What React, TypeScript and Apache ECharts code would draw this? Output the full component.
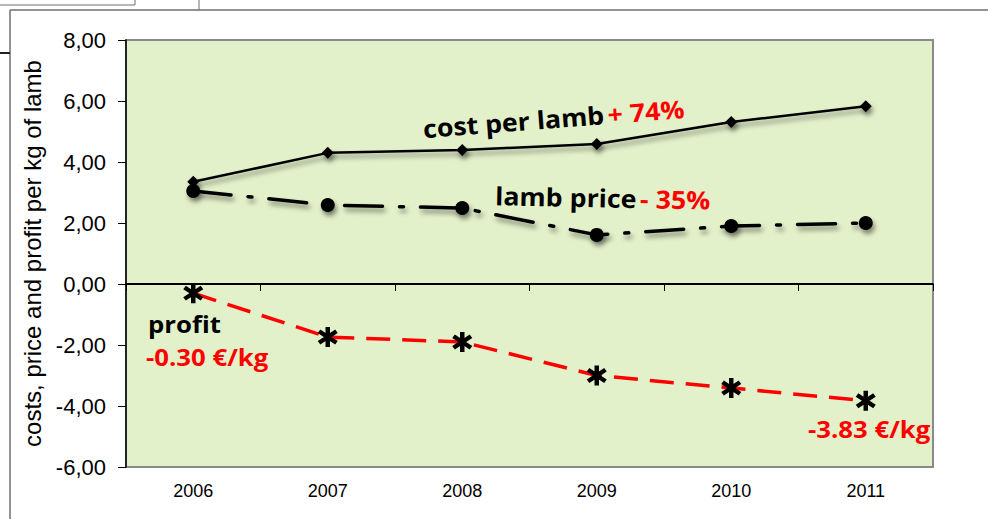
import React, { useEffect, useRef } from "react";
import * as echarts from "echarts";

const years = ["2006", "2007", "2008", "2009", "2010", "2011"];
const costPerLamb = [3.35, 4.3, 4.39, 4.59, 5.31, 5.83];
const lambPrice = [3.05, 2.59, 2.49, 1.61, 1.9, 2.0];
const profit = [-0.3, -1.74, -1.9, -3.0, -3.41, -3.83];
const yMin = -6;
const yMax = 8;
const yStep = 2;

function bar(angleDeg: number, half: number, w: number): string {
  const a = (angleDeg * Math.PI) / 180;
  const dx = Math.sin(a), dy = -Math.cos(a);
  const px = -dy, py = dx;
  const pts = [
    [half * dx + w * px, half * dy + w * py],
    [half * dx - w * px, half * dy - w * py],
    [-half * dx - w * px, -half * dy - w * py],
    [-half * dx + w * px, -half * dy + w * py],
  ];
  return "M" + pts.map((p) => p[0].toFixed(2) + "," + p[1].toFixed(2)).join(" L") + " Z";
}
const asterisk = "path://" + [bar(0, 10, 2.1), bar(55, 10, 2.1), bar(-55, 10, 2.1)].join(" ");

const shadow = {
  shadowColor: "rgba(0,0,0,0.45)",
  shadowBlur: 5,
  shadowOffsetX: 2,
  shadowOffsetY: 4,
};

const labelFont = "Open Sans, Lato, sans-serif";
const axisFont = "Liberation Sans, Arial, sans-serif";
const narrowFont = "Liberation Sans Narrow, Arial Narrow, Liberation Sans, sans-serif";

export default function App() {
  const ref = useRef<HTMLDivElement>(null);
  useEffect(() => {
    if (!ref.current) return;
    const chart = echarts.init(ref.current, null, { renderer: "svg" });
    chart.setOption({
      animation: false,
      backgroundColor: "#ffffff",
      grid: {
        left: 126,
        right: 55,
        top: 40,
        bottom: 52,
        show: true,
        backgroundColor: "#E3F1CA",
        borderColor: "#8a8a8a",
        borderWidth: 2,
      },
      xAxis: {
        type: "category",
        data: years,
        boundaryGap: true,
        axisLine: { lineStyle: { color: "#000", width: 1.5 } },
        axisTick: { show: true, length: 7, lineStyle: { color: "#000" } },
        axisLabel: {
          color: "#000",
          fontFamily: narrowFont,
          fontSize: 18,
          margin: 15,
        },
      },
      yAxis: {
        type: "value",
        min: yMin,
        max: yMax,
        interval: yStep,
        name: "costs, price and profit per kg of lamb",
        nameLocation: "middle",
        nameGap: 79,
        nameTextStyle: {
          color: "#000",
          fontFamily: axisFont,
          fontSize: 24,
        },
        axisLine: { show: true, lineStyle: { color: "#000", width: 1.5 } },
        axisTick: { show: true, length: 8, lineStyle: { color: "#000" } },
        splitLine: { show: false },
        axisLabel: {
          color: "#000",
          fontFamily: axisFont,
          fontSize: 22,
          margin: 20,
          formatter: (v: number) => v.toFixed(2).replace(".", ","),
        },
      },
      series: [
        {
          name: "cost per lamb",
          type: "line",
          data: costPerLamb,
          symbol: "diamond",
          symbolSize: 12,
          itemStyle: { color: "#000", ...shadow },
          lineStyle: { color: "#000", width: 2.5, ...shadow },
          z: 4,
          markLine: {
            silent: true,
            symbol: "none",
            label: { show: false },
            lineStyle: { color: "#000", width: 2, type: "solid" },
            data: [{ yAxis: 0 }],
          },
        },
        {
          name: "lamb price",
          type: "line",
          data: lambPrice,
          symbol: "circle",
          symbolSize: 14,
          itemStyle: { color: "#000", ...shadow },
          lineStyle: { color: "#000", width: 3.5, type: [38, 17, 4, 17], cap: "round", ...shadow },
          z: 3,
        },
        {
          name: "profit",
          type: "line",
          data: profit,
          symbol: asterisk,
          symbolSize: 20,
          itemStyle: { color: "#000" },
          lineStyle: { color: "#ff0000", width: 3.5, type: [24, 12] },
          z: 5,
        },
      ],
      graphic: [
        { type: "line", shape: { x1: 10, y1: 10, x2: 988, y2: 10 }, style: { stroke: "#6f6f6f", lineWidth: 1.5 } },
        { type: "line", shape: { x1: 10, y1: 10, x2: 10, y2: 519 }, style: { stroke: "#6f6f6f", lineWidth: 1.5 } },
        { type: "line", shape: { x1: 0, y1: 5, x2: 135, y2: 5 }, style: { stroke: "#6f6f6f", lineWidth: 1 } },
        { type: "line", shape: { x1: 135, y1: 0, x2: 135, y2: 5 }, style: { stroke: "#6f6f6f", lineWidth: 1 } },
        { type: "line", shape: { x1: 199, y1: 0, x2: 199, y2: 10 }, style: { stroke: "#6f6f6f", lineWidth: 1 } },
        { type: "line", shape: { x1: 0, y1: 53, x2: 10, y2: 53 }, style: { stroke: "#222", lineWidth: 2 } },
        {
          type: "text",
          x: 424,
          y: 141,
          scaleX: 1.07,
          rotation: (4.4 * Math.PI) / 180,
          z: 10,
          style: {
            text: "{b|cost per lamb} {r|+ 74%}",
            verticalAlign: "bottom",
            rich: {
              b: { fill: "#000", fontSize: 25, fontWeight: "bold", fontFamily: labelFont },
              r: { fill: "#ff0000", fontSize: 25, fontWeight: "bold", fontFamily: labelFont },
            },
          },
        },
        {
          type: "text",
          x: 495,
          y: 208,
          scaleX: 1.07,
          rotation: (-1.2 * Math.PI) / 180,
          z: 10,
          style: {
            text: "{b|lamb price} {r|- 35%}",
            verticalAlign: "bottom",
            rich: {
              b: { fill: "#000", fontSize: 25, fontWeight: "bold", fontFamily: labelFont },
              r: { fill: "#ff0000", fontSize: 25, fontWeight: "bold", fontFamily: labelFont },
            },
          },
        },
        {
          type: "text",
          x: 148,
          y: 336,
          scaleX: 1.12,
          z: 10,
          style: {
            text: "profit",
            verticalAlign: "bottom",
            fill: "#000",
            fontSize: 23,
            fontWeight: "bold",
            fontFamily: labelFont,
          },
        },
        {
          type: "text",
          x: 146,
          y: 369,
          scaleX: 1.12,
          z: 10,
          style: {
            text: "-0.30 €/kg",
            verticalAlign: "bottom",
            fill: "#ff0000",
            fontSize: 23,
            fontWeight: "bold",
            fontFamily: labelFont,
          },
        },
        {
          type: "text",
          x: 808,
          y: 441,
          scaleX: 1.12,
          z: 10,
          style: {
            text: "-3.83 €/kg",
            verticalAlign: "bottom",
            fill: "#ff0000",
            fontSize: 23,
            fontWeight: "bold",
            fontFamily: labelFont,
          },
        },
      ],
    });
    return () => chart.dispose();
  }, []);
  return (
    <div
      ref={ref}
      style={{ position: "absolute", left: 0, top: 0, width: 988, height: 519, background: "#fff" }}
    />
  );
}
